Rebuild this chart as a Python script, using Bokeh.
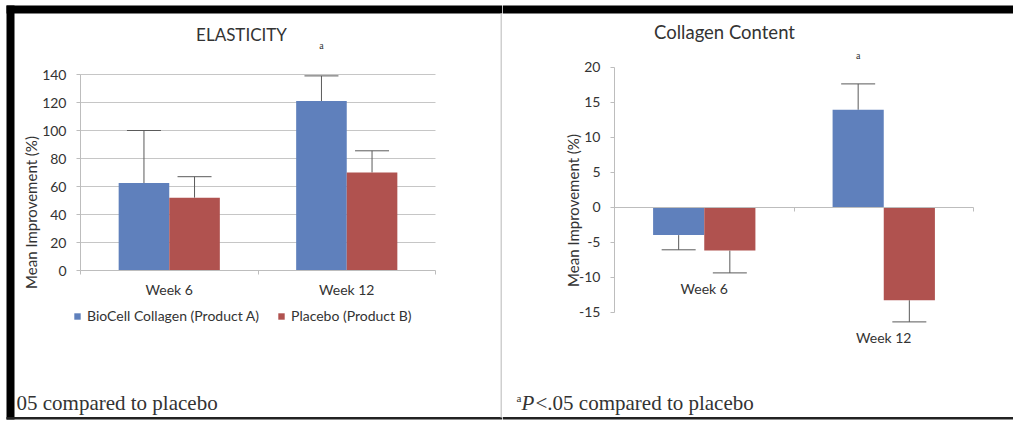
import math
from bokeh.plotting import figure
from bokeh.layouts import row
from bokeh.models import (Range1d, FixedTicker, Whisker, TeeHead, ColumnDataSource,
                          Label, Legend, LegendItem, BoxAnnotation)
from bokeh.core.properties import value
from bokeh.embed import file_html
from bokeh.resources import INLINE

# ---- data ----
weeks = ["Week 6", "Week 12"]

elasticity_biocell = [62.5, 121]
elasticity_biocell_err = [37.5, 18]
elasticity_placebo = [52, 70]
elasticity_placebo_err = [15, 15.5]

collagen_biocell = [-4, 13.9]
collagen_biocell_err = [2.1, 3.7]
collagen_placebo = [-6.2, -13.3]
collagen_placebo_err = [3.2, 3.1]

elasticity_ticks = [0, 20, 40, 60, 80, 100, 120, 140]
collagen_ticks = [-15, -10, -5, 0, 5, 10, 15, 20]

# ---- style ----
BLUE = "#5F80BC"
RED = "#B0524F"
AXIS = "#BDBDBD"
GRID = "#C6C6C6"
TXT = "#333333"
ERR = "#5A5A5A"
SANS = "Lato"
SERIF = "Liberation Serif"
BAR_W = 0.285
OFF = 0.1425
H = 421

centers = [i + 0.5 for i in range(len(weeks))]
x_blue = [c - OFF for c in centers]
x_red = [c + OFF for c in centers]


def make_panel(width, axis_left, axis_right, zero_row, top_row, top_value):
    """Figure whose plotting frame fills the whole canvas; the value axis sits at
    pixel column axis_left, categories span axis_left..axis_right and the value 0
    lies on pixel row zero_row (measured from the top)."""
    ppx = (axis_right - axis_left) / len(weeks)
    ppu = (zero_row - top_row) / top_value
    p = figure(width=width, height=H,
               x_range=Range1d(-axis_left / ppx, (width - axis_left) / ppx),
               y_range=Range1d(-(H - zero_row) / ppu, zero_row / ppu),
               min_border_left=0, min_border_right=0, min_border_top=0, min_border_bottom=0,
               output_backend="svg", toolbar_location=None)
    p.outline_line_color = None
    p.grid.visible = False
    for ax in (p.xaxis, p.yaxis):
        ax.fixed_location = 0
        ax.axis_line_color = AXIS
        ax.major_label_text_font = SANS
        ax.major_label_text_font_size = "14px"
        ax.major_label_text_color = TXT
    p.xaxis.bounds = (0, len(weeks))
    p.xaxis.major_tick_line_color = None
    p.xaxis.major_tick_out = 0
    p.xaxis.major_tick_in = 0
    p.xaxis.minor_tick_line_color = AXIS
    p.xaxis.minor_tick_out = 4
    p.xaxis.minor_tick_in = 0
    p.yaxis.major_tick_line_color = AXIS
    p.yaxis.major_tick_out = 4
    p.yaxis.major_tick_in = 0
    p.yaxis.minor_tick_line_color = None
    p.yaxis.major_label_standoff = 10
    return p


def value_axis(p, ticks):
    p.yaxis.ticker = FixedTicker(ticks=ticks)
    p.yaxis.bounds = (ticks[0], ticks[-1])
    p.yaxis.major_label_overrides = {t: f"{t}" for t in ticks}


def box(p, left, right, top, bottom, color):
    # rectangle given in pixels from the canvas' top-left corner
    p.add_layout(BoxAnnotation(left=left, right=right, top=H - top, bottom=H - bottom,
                               left_units="screen", right_units="screen",
                               top_units="screen", bottom_units="screen",
                               fill_color=color, fill_alpha=1, line_color=None,
                               level="overlay"))


def text_at(p, x, y, text, size, font=SANS, style="normal", align="left", angle=0):
    # text placed in pixels from the canvas' top-left corner
    p.add_layout(Label(x=x, y=H - y, x_units="screen", y_units="screen", text=text,
                       text_font=font, text_font_size=f"{size}px", text_font_style=style,
                       text_align=align, text_baseline="middle", angle=angle,
                       text_color=TXT))


# ================= ELASTICITY =================
p1 = make_panel(502, 80, 435, 270, 74, elasticity_ticks[-1])
value_axis(p1, elasticity_ticks)
p1.xaxis.ticker = FixedTicker(ticks=centers, minor_ticks=list(range(len(weeks) + 1)))
p1.xaxis.major_label_overrides = {c: w for c, w in zip(centers, weeks)}
p1.xaxis.major_label_standoff = 6

# horizontal gridlines across the category span
p1.segment(x0=0, x1=len(weeks), y0=elasticity_ticks[1:], y1=elasticity_ticks[1:],
           line_color=GRID, line_width=1, level="underlay")

rb1 = p1.vbar(x=x_blue, top=elasticity_biocell, bottom=0, width=BAR_W,
              fill_color=BLUE, line_color=None)
rr1 = p1.vbar(x=x_red, top=elasticity_placebo, bottom=0, width=BAR_W,
              fill_color=RED, line_color=None)

for xs, v, e in ((x_blue, elasticity_biocell, elasticity_biocell_err),
                 (x_red, elasticity_placebo, elasticity_placebo_err)):
    src = ColumnDataSource(dict(x=xs, lo=v, hi=[a + b for a, b in zip(v, e)]))
    p1.add_layout(Whisker(source=src, base="x", lower="lo", upper="hi",
                          line_color=ERR, line_width=1,
                          upper_head=TeeHead(size=34, line_color=ERR, line_width=1),
                          lower_head=None))

legend = Legend(items=[LegendItem(label="BioCell Collagen (Product A)", renderers=[rb1]),
                       LegendItem(label="Placebo (Product B)", renderers=[rr1])],
                orientation="horizontal", location=(73, H - 324),
                glyph_width=8, glyph_height=8, label_standoff=6, spacing=18,
                padding=0, margin=0, border_line_color=None, background_fill_alpha=0,
                label_text_font=SANS, label_text_font_size="14px", label_text_color=TXT)
p1.add_layout(legend)

# significance marker over Week 12
p1.add_layout(Label(x=x_blue[1], y=161, text="a", text_font=SERIF, text_font_size="10px",
                    text_align="center", text_baseline="middle", text_color=TXT))

text_at(p1, 241, 34, "ELASTICITY", 17, align="center")
text_at(p1, 30, 212, "Mean Improvement (%)", 15, align="center", angle=math.pi / 2)
text_at(p1, 16, 402, "05 compared to placebo", 21, font=SERIF)

# page frame
box(p1, 6, 502, 5, 13, "black")
box(p1, 6, 14, 5, 419, "black")
box(p1, 6, 502, 416.5, 419, "#222222")
box(p1, 500, 502, 13, 417, "#CFCFCF")

# ================= COLLAGEN CONTENT =================
p2 = make_panel(511, 112, 471, 206.6, 66.6, collagen_ticks[-1])
value_axis(p2, collagen_ticks)
p2.xaxis.ticker = FixedTicker(ticks=[], minor_ticks=list(range(len(weeks) + 1)))

p2.vbar(x=x_blue, top=collagen_biocell, bottom=0, width=BAR_W,
        fill_color=BLUE, line_color=None)
p2.vbar(x=x_red, top=collagen_placebo, bottom=0, width=BAR_W,
        fill_color=RED, line_color=None)

# error bars point away from zero
xs_all = x_blue + x_red
v_all = collagen_biocell + collagen_placebo
e_all = collagen_biocell_err + collagen_placebo_err
pos = [i for i, v in enumerate(v_all) if v >= 0]
neg = [i for i, v in enumerate(v_all) if v < 0]
src_pos = ColumnDataSource(dict(x=[xs_all[i] for i in pos], lo=[v_all[i] for i in pos],
                                hi=[v_all[i] + e_all[i] for i in pos]))
src_neg = ColumnDataSource(dict(x=[xs_all[i] for i in neg],
                                lo=[v_all[i] - e_all[i] for i in neg],
                                hi=[v_all[i] for i in neg]))
p2.add_layout(Whisker(source=src_pos, base="x", lower="lo", upper="hi", line_color=ERR,
                      upper_head=TeeHead(size=34, line_color=ERR), lower_head=None))
p2.add_layout(Whisker(source=src_neg, base="x", lower="lo", upper="hi", line_color=ERR,
                      lower_head=TeeHead(size=34, line_color=ERR), upper_head=None))

# category labels sit beneath the lowest point of each group
low = [min(b - eb, r - er, 0) for b, eb, r, er in
       zip(collagen_biocell, collagen_biocell_err, collagen_placebo, collagen_placebo_err)]
p2.text(x=centers, y=[l - 2.2 for l in low], text=weeks, text_font=value(SANS),
        text_font_size="14px", text_color=TXT, text_align="center", text_baseline="middle")

p2.add_layout(Label(x=x_blue[1], y=21.7, text="a", text_font=SERIF, text_font_size="10px",
                    text_align="center", text_baseline="middle", text_color=TXT))

text_at(p2, 222, 31, "Collagen Content", 18.5, align="center")
text_at(p2, 70, 210, "Mean Improvement (%)", 15, align="center", angle=math.pi / 2)
text_at(p2, 14, 397, "a", 11, font=SERIF)
text_at(p2, 19, 402, "P", 21, font=SERIF, style="italic")
text_at(p2, 33, 402, "<.05 compared to placebo", 21, font=SERIF)

box(p2, 0, 511, 5, 13, "black")
box(p2, 0, 511, 416.5, 419, "#222222")

layout = row(p1, p2, spacing=0)
open("out.html", "w").write(file_html(layout, INLINE))
